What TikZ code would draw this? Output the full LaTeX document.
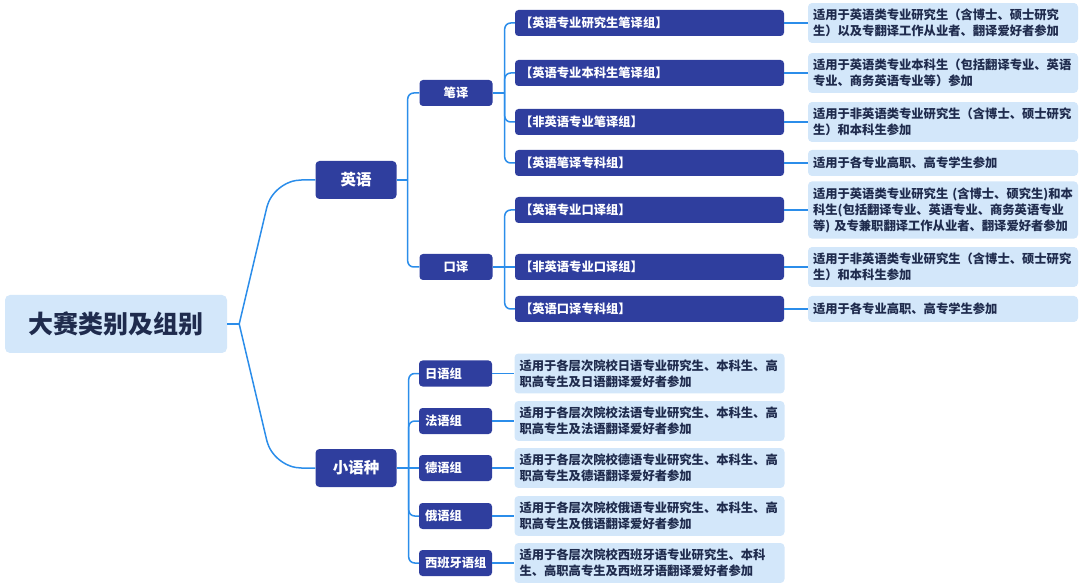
\documentclass[tikz,border=0pt]{standalone}
\usepackage{fontspec}
\setmainfont{Noto Sans CJK SC}
\definecolor{shenlan}{HTML}{2F3E9E}
\definecolor{qianlan}{HTML}{D3E7FA}
\definecolor{xianlan}{HTML}{2B8DEA}
\definecolor{wenzi}{HTML}{1F2B4D}
\begin{document}
\begin{tikzpicture}[
  x=1pt, y=-1pt,
  every node/.style={font=\bfseries\fontsize{12.3}{16}\selectfont, inner sep=0pt},
  lian/.style={draw=xianlan, line width=1.5pt}
]
\tikzset{
  zhu/.style={fill=qianlan, text=wenzi, rounded corners=5pt, minimum width=222, minimum height=58,
    font=\bfseries\fontsize{25}{29}\selectfont},
  lei/.style={fill=shenlan, text=white, rounded corners=4pt, minimum width=81, minimum height=38,
    font=\bfseries\fontsize{15.5}{18}\selectfont},
  fen/.style={fill=shenlan, text=white, rounded corners=3.5pt, text width=61, inner xsep=6,
    minimum height=26, align=left},
  zu/.style={fill=shenlan, text=white, rounded corners=3.5pt, text width=259, inner xsep=5,
    minimum height=26, align=left},
  shuoming/.style={fill=qianlan, text=wenzi, rounded corners=4pt, text width=260, inner xsep=5,
    inner ysep=6, minimum height=26, align=left}
}
\useasboundingbox (0,0) rectangle (1080,588);

% 根节点和两大类
\node[zhu] (zong) at (116,324) {大赛类别及组别};
\node[lei] (yy) at (356,180) {英语};
\node[lei] (xyz) at (356,468) {小语种};

% 英语：笔译、口译
\node[fen, align=center] (bi) at (456,93) {笔译};
\node[fen, align=center] (kou) at (456,267) {口译};

\node[zu] (b1) at (649.5,23) {【英语专业研究生笔译组】};
\node[zu] (b2) at (649.5,73) {【英语专业本科生笔译组】};
\node[zu] (b3) at (649.5,122) {【非英语专业笔译组】};
\node[zu] (b4) at (649.5,163) {【英语笔译专科组】};
\node[zu] (k1) at (649.5,210) {【英语专业口译组】};
\node[zu] (k2) at (649.5,267) {【非英语专业口译组】};
\node[zu] (k3) at (649.5,309) {【英语口译专科组】};

\node[shuoming] (sb1) at (943,23) {适用于英语类专业研究生（含博士、硕士研究\\生）以及专翻译工作从业者、翻译爱好者参加};
\node[shuoming] (sb2) at (943,73) {适用于英语类专业本科生（包括翻译专业、英语\\专业、商务英语专业等）参加};
\node[shuoming] (sb3) at (943,122) {适用于非英语类专业研究生（含博士、硕士研究\\生）和本科生参加};
\node[shuoming] (sb4) at (943,163) {适用于各专业高职、高专学生参加};
\node[shuoming] (sk1) at (943,210) {适用于英语类专业研究生 (含博士、硕究生)和本\\科生(包括翻译专业、英语专业、商务英语专业\\等) 及专兼职翻译工作从业者、翻译爱好者参加};
\node[shuoming] (sk2) at (943,267) {适用于非英语类专业研究生（含博士、硕士研究\\生）和本科生参加};
\node[shuoming] (sk3) at (943,309) {适用于各专业高职、高专学生参加};

% 小语种各组
\node[fen] (x1) at (455.5,373.5) {日语组};
\node[fen] (x2) at (455.5,421) {法语组};
\node[fen] (x3) at (455.5,468) {德语组};
\node[fen] (x4) at (455.5,516) {俄语组};
\node[fen] (x5) at (455.5,563) {西班牙语组};

\node[shuoming] (sx1) at (649.5,373.5) {适用于各层次院校日语专业研究生、本科生、高\\职高专生及日语翻译爱好者参加};
\node[shuoming] (sx2) at (649.5,421) {适用于各层次院校法语专业研究生、本科生、高\\职高专生及法语翻译爱好者参加};
\node[shuoming] (sx3) at (649.5,468) {适用于各层次院校德语专业研究生、本科生、高\\职高专生及德语翻译爱好者参加};
\node[shuoming] (sx4) at (649.5,516) {适用于各层次院校俄语专业研究生、本科生、高\\职高专生及俄语翻译爱好者参加};
\node[shuoming] (sx5) at (649.5,563) {适用于各层次院校西班牙语专业研究生、本科\\生、高职高专生及西班牙语翻译爱好者参加};

% 连线
\coordinate (j0) at ([xshift=12]zong.east);
\draw[lian] (zong.east) -- (j0);
\draw[lian, rounded corners=28] (j0) -- ([xshift=-42]yy.west) -- (yy.west);
\draw[lian, rounded corners=28] (j0) -- ([xshift=-42]xyz.west) -- (xyz.west);

\coordinate (j1) at ([xshift=11]yy.east);
\draw[lian] (yy.east) -- (j1);
\draw[lian, rounded corners=6] (bi.west) -| (j1) |- (kou.west);

\coordinate (j2) at ([xshift=12]bi.east);
\draw[lian] (bi.east) -- (j2);
\draw[lian, rounded corners=6] (b1.west) -| (j2) |- (b4.west);
\draw[lian, rounded corners=6] (b2.west) -| (j2);
\draw[lian, rounded corners=6] (b3.west) -| (j2);

\coordinate (j3) at ([xshift=12]kou.east);
\draw[lian, rounded corners=6] (k1.west) -| (j3) |- (k3.west);
\draw[lian] (kou.east) -- (k2.west);

\coordinate (j4) at ([xshift=12]xyz.east);
\draw[lian, rounded corners=6] (x1.west) -| (j4) |- (x5.west);
\draw[lian, rounded corners=6] (x2.west) -| (j4);
\draw[lian, rounded corners=6] (x4.west) -| (j4);
\draw[lian] (xyz.east) -- (x3.west);

\foreach \a in {b1,b2,b3,b4,k1,k2,k3,x1,x2,x3,x4,x5}
  \draw[lian] (\a.east) -- (s\a.west);
\end{tikzpicture}
\end{document}
